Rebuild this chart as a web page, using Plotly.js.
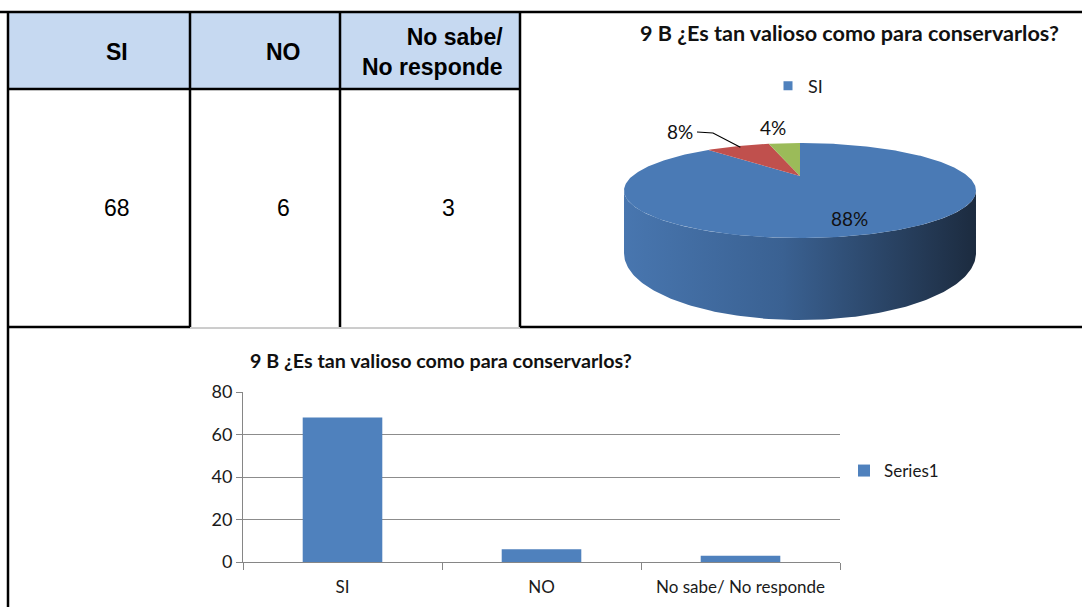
<!DOCTYPE html>
<html><head><meta charset="utf-8">
<script src="https://cdn.plot.ly/plotly-3.0.1.min.js"></script>
<style>html,body{margin:0;padding:0;background:#fff}#chart{width:1082px;height:607px}</style>
</head><body><div id="chart"></div>
<script>
// ---------- data ----------
const categories = ['SI', 'NO', 'No sabe/ No responde'];
const headerLabels = ['SI', 'NO', 'No sabe/<br>No responde'];
const values = [68, 6, 3];
const seriesName = 'Series1';
const chartTitle = '9 B ¿Es tan valioso como para conservarlos?';
const yTicks = [0, 20, 40, 60, 80];

// ---------- styling / geometry ----------
const W = 1082, H = 607;
const px = x => x / W, py = y => 1 - y / H;
const calibri = 'Lato, "Open Sans", sans-serif';
const arial = '"Liberation Sans", Arial, sans-serif';
const barColor = '#4f81bd';
const topColors = ['#4a7ab5', '#c0504d', '#9bbb59'];
const sideScales = [
  [[0, '#4876af'], [0.45, '#3a6192'], [1, '#1c2b3f']],
  [[0, '#a84442'], [1, '#4a1c1b']],
  [[0, '#86a24c'], [1, '#3c4a22']]
];
const pieGeo = {cx: 800, cy: 176, RS: 167.6, a: 43.1, r: 0.305, H: 57};
const pctLabelPos = [[849, 218], [680, 131], [773, 127]];
const colEdges = [8, 190, 340, 520];
const tblTop = 12, tblHead = 89, tblBottom = 327;

function proj(theta, bottom, k) {
  k = (k === undefined) ? 1 : k;
  const t = theta * Math.PI / 180, X = Math.sin(t) * k, Z = Math.cos(t) * k;
  const p = 1 / (1 + pieGeo.r * Z);
  return [pieGeo.cx + pieGeo.RS * X * p, pieGeo.cy - pieGeo.a * Z * p + (bottom ? pieGeo.H * p : 0)];
}
function arc(t0, t1, bottom) {
  const pts = [], n = Math.max(2, Math.ceil(Math.abs(t1 - t0)));
  for (let i = 0; i <= n; i++) pts.push(proj(t0 + (t1 - t0) * i / n, bottom));
  return pts;
}

const total = values.reduce((s, v) => s + v, 0);
const angles = [];
let acc = 0;
values.forEach(v => { const s = acc / total * 360; acc += v; angles.push([s, acc / total * 360]); });

const traces = [];

// bar chart
traces.push({
  type: 'bar', x: categories, y: values, name: seriesName, width: 0.4,
  marker: {color: barColor}, xaxis: 'x', yaxis: 'y', hoverinfo: 'x+y', legend: 'legend'
});

// 3D pie: side walls (visible front arc)
const visLo = Math.acos(-pieGeo.r) * 180 / Math.PI, visHi = 360 - visLo;
const extentX = [pieGeo.cx - 176, pieGeo.cx + 176];
angles.forEach(([s, e], i) => {
  const lo = Math.max(s, visLo), hi = Math.min(e, visHi);
  if (hi <= lo) return;
  const topPts = arc(lo, hi, false), botPts = arc(hi, lo, true);
  const pts = topPts.concat(botPts);
  pts.push(topPts[0]);
  traces.push({
    type: 'scatter', mode: 'lines', x: pts.map(p => p[0]), y: pts.map(p => p[1]),
    xaxis: 'x2', yaxis: 'y2', fill: 'toself', line: {width: 0, color: 'rgba(0,0,0,0)'},
    fillgradient: {type: 'horizontal', colorscale: sideScales[i], start: extentX[0], stop: extentX[1]},
    fillcolor: sideScales[i][1][1],
    hoverinfo: 'skip', showlegend: false
  });
});
// 3D pie: top faces
angles.forEach(([s, e], i) => {
  const pts = [[pieGeo.cx, pieGeo.cy]].concat(arc(s, e, false));
  pts.push([pieGeo.cx, pieGeo.cy]);
  traces.push({
    type: 'scatter', mode: 'lines', x: pts.map(p => p[0]), y: pts.map(p => p[1]),
    xaxis: 'x2', yaxis: 'y2', fill: 'toself', fillcolor: topColors[i],
    line: {width: 0, color: topColors[i]}, name: categories[i],
    hoverinfo: 'name', showlegend: false
  });
});
// leader line for NO label
const midNO = (angles[1][0] + angles[1][1]) / 2;
const tip = proj(midNO, false, 0.95);
traces.push({
  type: 'scatter', mode: 'lines', xaxis: 'x2', yaxis: 'y2',
  x: [pctLabelPos[1][0] + 17, pctLabelPos[1][0] + 33, tip[0]],
  y: [pctLabelPos[1][1] + 1, pctLabelPos[1][1] + 2, tip[1]],
  line: {color: '#000', width: 1.2}, hoverinfo: 'skip', showlegend: false
});
// pie legend entry (SI)
traces.push({
  type: 'scatter', mode: 'markers', x: [null], y: [null], xaxis: 'x2', yaxis: 'y2',
  name: categories[0], marker: {symbol: 'square', size: 9, color: barColor},
  legend: 'legend2', hoverinfo: 'skip'
});

// ---------- shapes ----------
const shapes = [];
const line = (x0, y0, x1, y1, w, c) => shapes.push({type: 'line', xref: 'paper', yref: 'paper',
  x0: px(x0), y0: py(y0), x1: px(x1), y1: py(y1), line: {color: c || '#000', width: w}});
shapes.push({type: 'rect', xref: 'paper', yref: 'paper', x0: px(colEdges[0]), x1: px(colEdges[3]),
  y0: py(tblHead), y1: py(tblTop), fillcolor: '#c6d9f1', line: {width: 0}, layer: 'below'});
line(0, tblTop, W, tblTop, 2.5);
line(colEdges[0], tblTop, colEdges[0], H, 2.5);
colEdges.slice(1).forEach(x => line(x, tblTop, x, tblBottom, 2.5));
line(colEdges[0], tblHead, colEdges[3], tblHead, 2.5);
line(colEdges[0], tblBottom, colEdges[1], tblBottom, 2.5);
line(colEdges[1], tblBottom + 1, colEdges[3], tblBottom + 1, 1, '#9a9a9a');
line(colEdges[3], tblBottom, W, tblBottom, 2.5);

// ---------- annotations ----------
const ann = [];
headerLabels.forEach((h, i) => {
  const c = (colEdges[i] + colEdges[i + 1]) / 2;
  const last = i === headerLabels.length - 1;
  ann.push({xref: 'x2', yref: 'y2', x: last ? colEdges[i + 1] - 15 : c + 18, y: (tblTop + tblHead) / 2 + 1,
    xanchor: last ? 'right' : 'center', align: last ? 'right' : 'center', yanchor: 'middle',
    text: '<b>' + h + '</b>', showarrow: false, font: {family: arial, size: 23, color: '#000'}});
});
values.forEach((v, i) => {
  const c = (colEdges[i] + colEdges[i + 1]) / 2;
  ann.push({xref: 'x2', yref: 'y2', x: c + 18, y: (tblHead + tblBottom) / 2, xanchor: 'center', yanchor: 'middle',
    text: String(v), showarrow: false, font: {family: arial, size: 23, color: '#000'}});
});
values.forEach((v, i) => {
  ann.push({xref: 'x2', yref: 'y2', x: pctLabelPos[i][0], y: pctLabelPos[i][1], xanchor: 'center', yanchor: 'middle',
    text: Math.round(v / total * 100) + '%', showarrow: false, font: {family: calibri, size: 19, color: '#111'}});
});
ann.push({xref: 'paper', yref: 'paper', x: px(849), y: py(33), xanchor: 'center', yanchor: 'middle',
  text: '<b>' + chartTitle + '</b>', showarrow: false, font: {family: calibri, size: 21.6, color: '#111'}});
ann.push({xref: 'paper', yref: 'paper', x: px(441), y: py(360), xanchor: 'center', yanchor: 'middle',
  text: '<b>' + chartTitle + '</b>', showarrow: false, font: {family: calibri, size: 19.7, color: '#111'}});

const layout = {
  width: W, height: H, margin: {l: 0, r: 0, t: 0, b: 0},
  paper_bgcolor: '#fff', plot_bgcolor: 'rgba(0,0,0,0)',
  font: {family: calibri, color: '#1a1a1a'},
  showlegend: true,
  xaxis: {domain: [px(243), px(840)], type: 'category', tickson: 'boundaries', ticks: 'outside', ticklen: 7,
    tickcolor: '#868686', showline: true, linecolor: '#868686', linewidth: 1, showgrid: false,
    tickfont: {size: 17, color: '#1a1a1a'}, ticklabelstandoff: 10, anchor: 'y', fixedrange: true},
  yaxis: {domain: [py(562), py(392)], range: [0, 80], autorange: false, tickvals: yTicks, ticks: 'outside', ticklen: 6,
    tickcolor: '#868686', showline: true, linecolor: '#868686', gridcolor: '#8c8c8c', gridwidth: 1,
    zeroline: false, tickfont: {size: 18, color: '#1a1a1a'}, anchor: 'x', fixedrange: true},
  xaxis2: {domain: [0, 1], range: [0, W], autorange: false, visible: false, anchor: 'y2', fixedrange: true},
  yaxis2: {domain: [py(330), 1], range: [330, 0], autorange: false, visible: false, anchor: 'x2', fixedrange: true},
  legend: {x: px(844), y: py(471), xanchor: 'left', yanchor: 'middle', bgcolor: 'rgba(0,0,0,0)',
    font: {size: 17, family: calibri}},
  legend2: {x: px(768), y: py(86), xanchor: 'left', yanchor: 'middle', bgcolor: 'rgba(0,0,0,0)',
    font: {size: 18, family: calibri}},
  shapes: shapes,
  annotations: ann
};

Plotly.newPlot('chart', traces, layout, {displayModeBar: false, staticPlot: true});
</script></body></html>
